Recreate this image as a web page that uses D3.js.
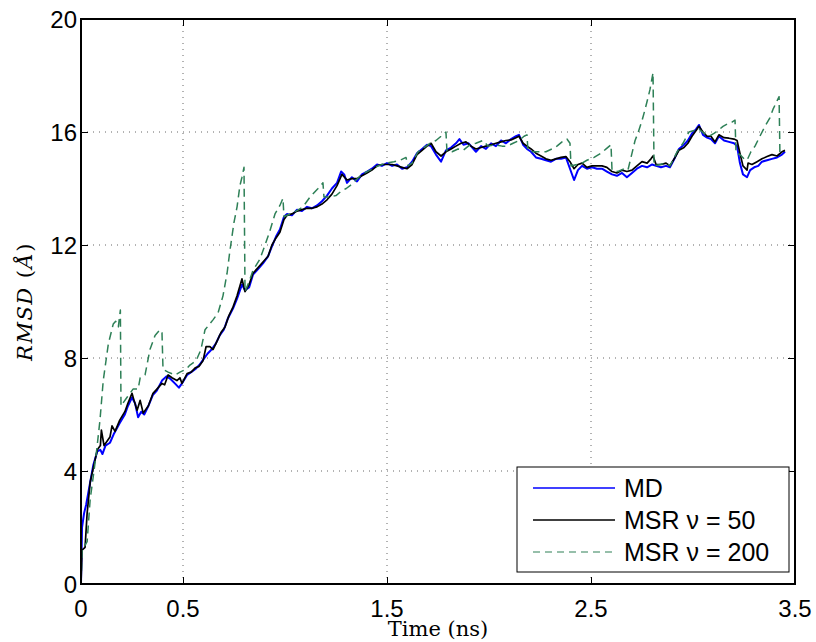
<!DOCTYPE html>
<html>
<head>
<meta charset="utf-8">
<script src="https://cdn.jsdelivr.net/npm/d3@7"></script>
<style>
  body { margin: 0; background: #fff; }
  svg { display: block; }
  .tick-label { font-family: "Liberation Sans", Arial, sans-serif; font-size: 24px; fill: #000; }
  .axis-title { font-family: "DejaVu Serif", serif; font-size: 21px; fill: #000; }
  .legend text { font-family: "Liberation Sans", Arial, sans-serif; font-size: 25px; fill: #000; }
</style>
</head>
<body>
<div id="chart"></div>
<script>
// RMSD vs time
const xTicks = [0, 0.5, 1.5, 2.5, 3.5];
const yTicks = [0, 4, 8, 12, 16, 20];
const seriesNames = ['MD', 'MSR \u03bd = 50', 'MSR \u03bd = 200'];

// MD (time in ns, RMSD in angstrom)
const mdTime = [0, 0.005, 0.015, 0.025, 0.035, 0.045, 0.06, 0.08, 0.095, 0.105, 0.12, 0.142, 0.16, 0.19, 0.215,
  0.23, 0.25, 0.265, 0.28, 0.295, 0.31, 0.33, 0.353, 0.372, 0.397, 0.42, 0.44, 0.46, 0.48, 0.495, 0.52, 0.54,
  0.56, 0.58, 0.6, 0.62, 0.64, 0.66, 0.68, 0.7, 0.72, 0.745, 0.765, 0.789, 0.804, 0.824, 0.843, 0.868, 0.892,
  0.917, 0.936, 0.956, 0.975, 0.995, 1.01, 1.034, 1.059, 1.083, 1.108, 1.132, 1.157, 1.181, 1.206, 1.23, 1.255,
  1.275, 1.29, 1.304, 1.328, 1.353, 1.377, 1.402, 1.426, 1.451, 1.475, 1.5, 1.525, 1.549, 1.574, 1.598, 1.623,
  1.647, 1.672, 1.696, 1.716, 1.74, 1.765, 1.789, 1.814, 1.838, 1.855, 1.875, 1.9, 1.936, 1.961, 1.985, 2.01,
  2.034, 2.059, 2.083, 2.108, 2.132, 2.147, 2.167, 2.186, 2.206, 2.23, 2.255, 2.279, 2.304, 2.328, 2.353, 2.377,
  2.397, 2.417, 2.436, 2.456, 2.48, 2.505, 2.529, 2.554, 2.578, 2.603, 2.627, 2.652, 2.676, 2.701, 2.725, 2.75,
  2.775, 2.8, 2.819, 2.843, 2.868, 2.887, 2.912, 2.931, 2.956, 2.975, 2.995, 3.015, 3.029, 3.049, 3.069, 3.088,
  3.108, 3.127, 3.152, 3.176, 3.201, 3.216, 3.23, 3.245, 3.265, 3.28, 3.3, 3.32, 3.338, 3.363, 3.387, 3.412,
  3.436, 3.451];
const mdRmsd = [0, 2.0, 2.5, 2.8, 3.2, 3.6, 4.2, 4.7, 4.75, 4.6, 4.9, 5.0, 5.3, 5.7, 6.0,
  6.3, 6.6, 6.4, 5.9, 6.1, 6.0, 6.3, 6.7, 6.85, 7.2, 7.35, 7.25, 7.1, 6.95, 7.1, 7.4, 7.5,
  7.6, 7.75, 7.95, 8.15, 8.3, 8.5, 8.8, 9.0, 9.4, 9.75, 10.1, 10.6, 10.4, 10.5, 10.95, 11.15, 11.35,
  11.6, 11.95, 12.3, 12.55, 13.0, 13.1, 13.05, 13.25, 13.2, 13.35, 13.3, 13.4, 13.55, 13.75, 14.0, 14.2,
  14.6, 14.5, 14.2, 14.4, 14.25, 14.5, 14.6, 14.7, 14.85, 14.8, 14.9, 14.8, 14.85, 14.7, 14.75, 14.95,
  15.25, 15.4, 15.55, 15.5, 15.2, 14.95, 15.35, 15.45, 15.6, 15.75, 15.55, 15.6, 15.3, 15.5, 15.4, 15.6,
  15.5, 15.7, 15.6, 15.75, 15.85, 15.9, 15.55, 15.4, 15.3, 15.1, 15.05, 15.0, 14.95, 15.05, 15.05, 15.1,
  14.7, 14.3, 14.65, 14.8, 14.7, 14.75, 14.7, 14.7, 14.6, 14.5, 14.45, 14.55, 14.4, 14.55, 14.7, 14.8,
  14.75, 14.85, 14.8, 14.75, 14.8, 14.75, 15.1, 15.4, 15.55, 15.7, 15.95, 16.1, 16.25, 15.9, 15.8, 15.75,
  15.6, 15.85, 15.7, 15.65, 15.6, 15.5, 14.9, 14.5, 14.4, 14.65, 14.75, 14.8, 14.95, 15.0, 15.05, 15.1,
  15.2, 15.3];

// MSR nu = 50
const msr50Time = [0, 0.005, 0.02, 0.03, 0.045, 0.06, 0.08, 0.095, 0.1, 0.113, 0.142, 0.152, 0.167, 0.19, 0.215,
  0.23, 0.25, 0.26, 0.275, 0.29, 0.305, 0.33, 0.353, 0.372, 0.397, 0.41, 0.427, 0.446, 0.47, 0.485, 0.495, 0.52,
  0.54, 0.56, 0.578, 0.598, 0.613, 0.632, 0.647, 0.667, 0.686, 0.706, 0.725, 0.745, 0.765, 0.789, 0.804, 0.824,
  0.843, 0.868, 0.892, 0.917, 0.936, 0.956, 0.975, 0.995, 1.01, 1.034, 1.059, 1.083, 1.108, 1.132, 1.157, 1.181,
  1.206, 1.23, 1.255, 1.279, 1.304, 1.328, 1.353, 1.377, 1.402, 1.426, 1.451, 1.475, 1.5, 1.525, 1.549, 1.574,
  1.598, 1.623, 1.647, 1.672, 1.696, 1.716, 1.74, 1.765, 1.789, 1.814, 1.838, 1.863, 1.887, 1.912, 1.936, 1.961,
  1.985, 2.01, 2.034, 2.059, 2.083, 2.108, 2.132, 2.147, 2.167, 2.186, 2.206, 2.23, 2.255, 2.279, 2.304, 2.328,
  2.353, 2.377, 2.397, 2.417, 2.436, 2.456, 2.48, 2.505, 2.529, 2.554, 2.578, 2.603, 2.627, 2.652, 2.676, 2.701,
  2.725, 2.75, 2.775, 2.794, 2.804, 2.819, 2.843, 2.868, 2.887, 2.912, 2.931, 2.956, 2.975, 2.995, 3.015, 3.029,
  3.049, 3.069, 3.088, 3.108, 3.127, 3.152, 3.176, 3.201, 3.216, 3.23, 3.245, 3.265, 3.27, 3.289, 3.314, 3.338,
  3.363, 3.387, 3.412, 3.436, 3.451];
const msr50Rmsd = [0, 1.2, 1.3, 2.5, 3.6, 4.1, 4.75, 4.9, 5.45, 4.9, 5.2, 5.6, 5.4, 5.8, 6.1,
  6.4, 6.75, 6.5, 6.15, 6.5, 6.05, 6.3, 6.75, 6.9, 7.1, 7.05, 7.4, 7.3, 7.2, 7.3, 7.1, 7.45,
  7.5, 7.65, 7.7, 7.9, 8.4, 8.4, 8.3, 8.6, 8.9, 9.1, 9.5, 9.8, 10.2, 10.8, 10.35, 10.6,
  11.0, 11.2, 11.4, 11.6, 12.0, 12.25, 12.45, 12.9, 13.05, 13.1, 13.2, 13.25, 13.3, 13.3, 13.35, 13.45,
  13.6, 13.8, 14.1, 14.5, 14.3, 14.35, 14.35, 14.45, 14.55, 14.65, 14.8, 14.85, 14.85, 14.85, 14.8, 14.75,
  14.7, 14.85, 15.2, 15.35, 15.5, 15.6, 15.3, 15.15, 15.3, 15.4, 15.5, 15.6, 15.65, 15.5, 15.4, 15.45,
  15.5, 15.55, 15.6, 15.65, 15.7, 15.72, 15.8, 15.85, 15.6, 15.5, 15.4, 15.25, 15.15, 15.05, 15.0, 15.05,
  15.1, 15.13, 14.95, 14.7, 14.85, 14.9, 14.75, 14.8, 14.8, 14.8, 14.75, 14.6, 14.55, 14.65, 14.6, 14.65,
  14.8, 14.95, 14.9, 15.05, 15.15, 14.85, 14.85, 14.9, 14.8, 15.1, 15.35, 15.45, 15.6, 15.85, 16.05, 16.2,
  16.0, 15.85, 15.85, 15.65, 15.9, 15.8, 15.78, 15.75, 15.7, 15.25, 14.8, 14.65, 14.9, 14.85, 14.95, 15.05,
  15.13, 15.2, 15.15, 15.3, 15.35];

// MSR nu = 200
const msr200Time = [0, 0.005, 0.03, 0.045, 0.06, 0.077, 0.093, 0.109, 0.134, 0.158, 0.17, 0.183, 0.193, 0.196,
  0.225, 0.255, 0.28, 0.29, 0.314, 0.338, 0.363, 0.387, 0.397, 0.402, 0.427, 0.461, 0.485, 0.515, 0.534, 0.564,
  0.588, 0.608, 0.647, 0.672, 0.696, 0.716, 0.73, 0.75, 0.765, 0.779, 0.789, 0.799, 0.804, 0.824, 0.843, 0.877,
  0.902, 0.926, 0.951, 0.975, 0.99, 0.995, 1.025, 1.054, 1.088, 1.123, 1.162, 1.186, 1.191, 1.22, 1.25, 1.275,
  1.3, 1.319, 1.348, 1.377, 1.417, 1.456, 1.495, 1.534, 1.564, 1.593, 1.603, 1.623, 1.652, 1.681, 1.711, 1.74,
  1.765, 1.789, 1.794, 1.819, 1.848, 1.873, 1.907, 1.936, 1.971, 1.995, 2.029, 2.064, 2.088, 2.118, 2.147, 2.172,
  2.186, 2.191, 2.216, 2.25, 2.279, 2.309, 2.333, 2.358, 2.382, 2.397, 2.402, 2.431, 2.456, 2.48, 2.515, 2.549,
  2.574, 2.598, 2.603, 2.632, 2.662, 2.681, 2.696, 2.716, 2.73, 2.75, 2.765, 2.779, 2.789, 2.804, 2.809, 2.838,
  2.868, 2.887, 2.922, 2.951, 2.98, 3.005, 3.029, 3.054, 3.078, 3.103, 3.123, 3.147, 3.172, 3.191, 3.206, 3.211,
  3.23, 3.25, 3.265, 3.284, 3.304, 3.328, 3.353, 3.377, 3.392, 3.412, 3.422, 3.426, 3.44];
const msr200Rmsd = [0, 1.2, 1.5, 3.0, 3.8, 4.75, 5.8, 7.2, 8.5, 9.2, 9.3, 9.1, 9.7, 6.3,
  6.6, 6.9, 6.9, 7.3, 7.4, 8.3, 8.8, 9.0, 8.9, 7.6, 7.5, 7.4, 7.5, 7.6, 7.75, 7.9,
  8.3, 9.0, 9.35, 9.6, 10.2, 11.0, 11.8, 12.8, 13.35, 14.1, 14.4, 14.75, 10.35, 10.7, 11.1, 11.5,
  12.0, 12.5, 13.1, 13.4, 13.65, 13.0, 13.1, 13.2, 13.35, 13.7, 14.0, 14.2, 13.7, 13.7, 13.75, 13.9,
  14.0, 14.1, 14.3, 14.5, 14.65, 14.8, 14.9, 14.95, 15.0, 15.1, 14.8, 14.9, 15.3, 15.45, 15.6, 15.7,
  15.85, 16.0, 15.3, 15.3, 15.4, 15.35, 15.55, 15.6, 15.7, 15.5, 15.55, 15.5, 15.5, 15.6, 15.7, 15.85,
  15.9, 15.35, 15.3, 15.3, 15.3, 15.4, 15.5, 15.65, 15.75, 15.6, 14.8, 14.85, 14.9, 15.0, 15.1, 15.25,
  15.4, 15.55, 14.65, 14.6, 14.7, 14.65, 15.1, 15.7, 15.96, 16.4, 16.8, 17.2, 17.5, 18.1, 14.8, 14.85,
  14.9, 14.8, 15.3, 15.6, 16.0, 16.05, 16.1, 15.95, 15.85, 15.95, 16.05, 16.2, 16.3, 16.35, 16.42, 15.25,
  15.2, 15.05, 15.0, 15.3, 15.5, 15.85, 16.2, 16.5, 16.8, 17.1, 17.25, 15.25, 15.3];

const colors = ['#0000ff', '#000000', '#2e8057'];

const width = 816;
const height = 642;
const plot = {left: 81, right: 795, top: 19, bottom: 584};

const x = d3.scaleLinear().domain([0, 3.5]).range([plot.left, plot.right]);
const y = d3.scaleLinear().domain([0, 20]).range([plot.bottom, plot.top]);

const svg = d3.select('#chart').append('svg')
  .attr('width', width)
  .attr('height', height);

svg.append('defs').append('clipPath')
    .attr('id', 'plot-clip')
  .append('rect')
    .attr('x', plot.left)
    .attr('y', plot.top)
    .attr('width', plot.right - plot.left)
    .attr('height', plot.bottom - plot.top);

// dotted grid
const grid = svg.append('g').attr('class', 'grid');
grid.selectAll('.gx')
    .data(xTicks.filter(d => d > 0 && d < 3.5))
  .enter().append('line')
    .attr('x1', d => x(d)).attr('x2', d => x(d))
    .attr('y1', plot.top).attr('y2', plot.bottom)
    .attr('stroke', '#666')
    .attr('stroke-width', 1)
    .attr('stroke-dasharray', '1,5');
grid.selectAll('.gy')
    .data(yTicks.filter(d => d > 0 && d < 20))
  .enter().append('line')
    .attr('x1', plot.left).attr('x2', plot.right)
    .attr('y1', d => y(d)).attr('y2', d => y(d))
    .attr('stroke', '#666')
    .attr('stroke-width', 1)
    .attr('stroke-dasharray', '1,5');

// curves
const line = d3.line()
  .x(d => x(d[0]))
  .y(d => y(d[1]));

const series = [
  d3.zip(mdTime, mdRmsd),
  d3.zip(msr50Time, msr50Rmsd),
  d3.zip(msr200Time, msr200Rmsd)
];

svg.append('g')
    .attr('clip-path', 'url(#plot-clip)')
  .selectAll('path')
    .data(series)
  .enter().append('path')
    .attr('d', line)
    .attr('fill', 'none')
    .attr('stroke', (d, i) => colors[i])
    .attr('stroke-width', (d, i) => i === 2 ? 1.5 : (i === 0 ? 2 : 1.7))
    .attr('stroke-dasharray', (d, i) => i === 2 ? '8,5' : null)
    .attr('stroke-linejoin', 'round');

// axes: ticks inside on all four sides, as in the original
const tickLen = 7;
svg.append('g')
    .attr('transform', `translate(0,${plot.bottom})`)
    .call(d3.axisTop(x).tickValues(xTicks).tickSize(tickLen).tickFormat(''));
svg.append('g')
    .attr('transform', `translate(0,${plot.top})`)
    .call(d3.axisBottom(x).tickValues(xTicks).tickSize(tickLen).tickFormat(''));
svg.append('g')
    .attr('transform', `translate(${plot.left},0)`)
    .call(d3.axisRight(y).tickValues(yTicks).tickSize(tickLen).tickFormat(''));
svg.append('g')
    .attr('transform', `translate(${plot.right},0)`)
    .call(d3.axisLeft(y).tickValues(yTicks).tickSize(tickLen).tickFormat(''));
svg.selectAll('.domain').remove();
svg.selectAll('.tick line').attr('stroke', '#000').attr('stroke-width', 1);

svg.append('rect')
  .attr('x', plot.left)
  .attr('y', plot.top)
  .attr('width', plot.right - plot.left)
  .attr('height', plot.bottom - plot.top)
  .attr('fill', 'none')
  .attr('stroke', '#000')
  .attr('stroke-width', 2);

// tick labels
svg.selectAll('.xlab')
    .data(xTicks)
  .enter().append('text')
    .attr('class', 'tick-label')
    .attr('x', d => x(d))
    .attr('y', plot.bottom + 33)
    .attr('text-anchor', 'middle')
    .text(d => d3.format('')(d));

svg.selectAll('.ylab')
    .data(yTicks)
  .enter().append('text')
    .attr('class', 'tick-label')
    .attr('x', plot.left - 4)
    .attr('y', d => y(d) + 9)
    .attr('text-anchor', 'end')
    .text(d => d);

// axis titles
svg.append('text')
  .attr('class', 'axis-title')
  .attr('x', 438)
  .attr('y', 636)
  .attr('text-anchor', 'middle')
  .text('Time (ns)');

const ytitle = svg.append('text')
  .attr('class', 'axis-title')
  .attr('transform', `translate(32,${(plot.top + plot.bottom) / 2}) rotate(-90)`)
  .attr('text-anchor', 'middle')
  .style('letter-spacing', '1.5px');
ytitle.append('tspan').attr('font-style', 'italic').text('RMSD');
ytitle.append('tspan').text(' (');
ytitle.append('tspan').attr('font-style', 'italic').text('\u00c5');
ytitle.append('tspan').text(')');

// legend
const legend = svg.append('g')
  .attr('class', 'legend')
  .attr('transform', 'translate(517,467)');

legend.append('rect')
  .attr('width', 272)
  .attr('height', 105)
  .attr('fill', '#fff')
  .attr('stroke', '#000')
  .attr('stroke-width', 1);

const item = legend.selectAll('.item')
    .data(seriesNames)
  .enter().append('g')
    .attr('class', 'item')
    .attr('transform', (d, i) => `translate(0,${21 + i * 32})`);

item.append('line')
  .attr('x1', 16).attr('x2', 98)
  .attr('stroke', (d, i) => colors[i])
  .attr('stroke-width', (d, i) => i === 2 ? 1.2 : 1.4)
  .attr('stroke-dasharray', (d, i) => i === 2 ? '7,5' : null);

item.append('text')
  .attr('x', 107)
  .attr('y', 9)
  .text(d => d);
</script>
</body>
</html>
